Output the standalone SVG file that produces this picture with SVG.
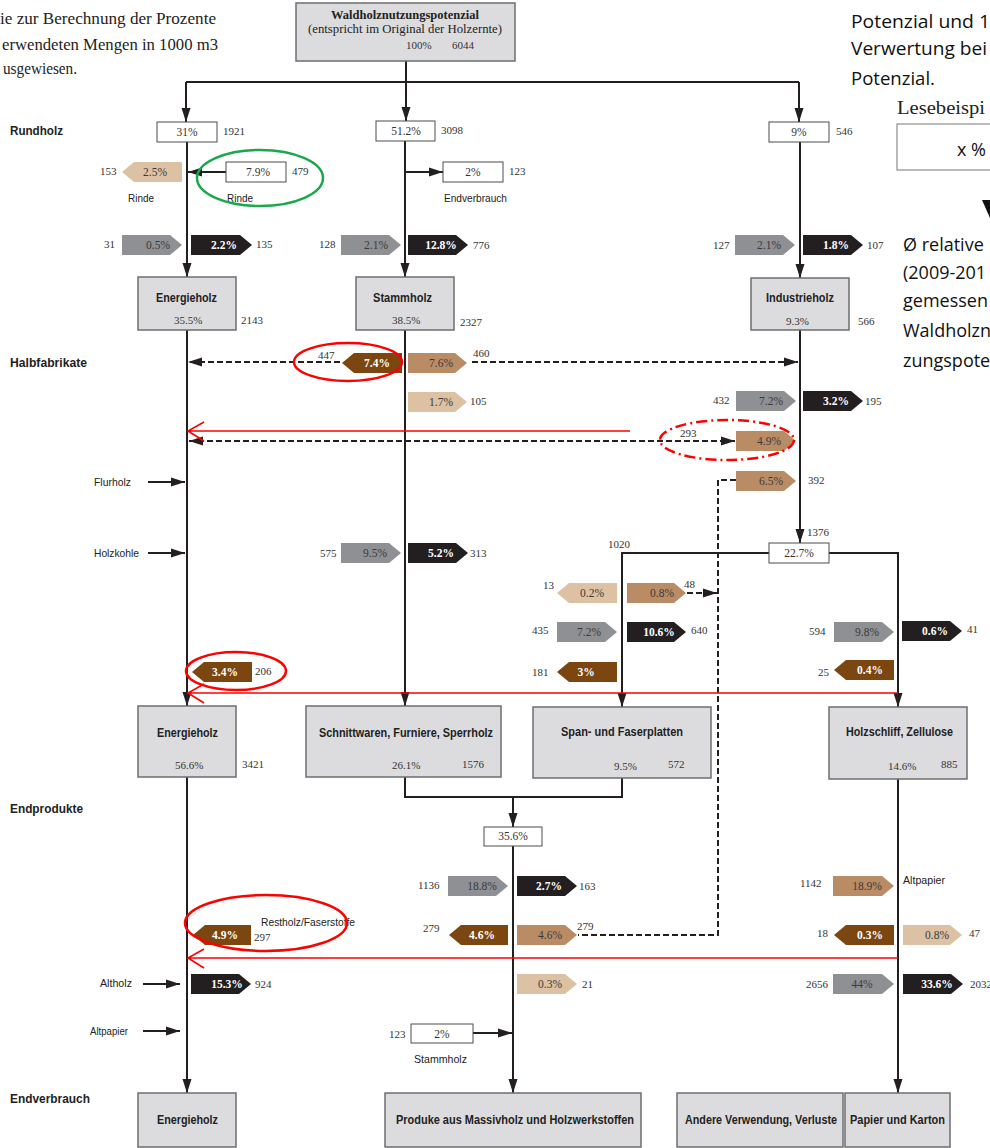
<svg xmlns="http://www.w3.org/2000/svg" width="990" height="1148" viewBox="0 0 990 1148">
<defs>
<style>
.ln{fill:none;stroke:#231f20;stroke-width:2}
.dl{fill:none;stroke:#231f20;stroke-width:2;stroke-dasharray:6 3}
.rl{fill:none;stroke:#ff0000;stroke-width:1.6}
.box{fill:#dcdcde;stroke:#6d6e70;stroke-width:1.5}
.wb{fill:#fff;stroke:#4d4d4d;stroke-width:1}
.gr{fill:#8f9094}
.bk{fill:#231f20}
.lt{fill:#dcc1a3}
.md{fill:#b98c66}
.dk{fill:#7b460f}
.num{font-family:"Liberation Serif",serif;font-size:11px;fill:#333}
.nc{font-family:"Liberation Serif",serif;font-size:11.5px;fill:#333;text-anchor:middle}
.pw{font-family:"Liberation Serif",serif;font-size:11.5px;font-weight:bold;fill:#fff;text-anchor:middle}
.pd{font-family:"Liberation Serif",serif;font-size:11.5px;fill:#3a3a3a;text-anchor:middle}
.lbl{font-family:"Liberation Sans Narrow","Liberation Sans",sans-serif;font-size:11px;fill:#222}
.hb{font-family:"Liberation Sans Narrow","Liberation Sans",sans-serif;font-size:12px;font-weight:bold;fill:#222}
.ser{font-family:"Liberation Serif",serif;fill:#222}
.cal{font-family:"Open Sans","Liberation Sans",sans-serif;font-size:18px;fill:#111}
.ov{fill:none;stroke-width:2.5}
</style>
<marker id="ah" markerUnits="userSpaceOnUse" markerWidth="15" markerHeight="11" refX="14" refY="5" orient="auto-start-reverse"><path d="M0,0.5 L14,5 L0,9.5 z" fill="#231f20"/></marker>
</defs>

<g id="intro-text">
<text class="ser" x="0" y="24" font-size="16" textLength="216" lengthAdjust="spacingAndGlyphs">ie zur Berechnung der Prozente</text>
<text class="ser" x="2" y="50" font-size="16" textLength="216" lengthAdjust="spacingAndGlyphs">erwendeten Mengen in 1000 m3</text>
<text class="ser" x="3" y="74" font-size="16" textLength="74" lengthAdjust="spacingAndGlyphs">usgewiesen.</text>
</g>

<g id="legend">
<text class="cal" x="851" y="28" textLength="139" lengthAdjust="spacingAndGlyphs">Potenzial und  1</text>
<text class="cal" x="851" y="55" textLength="136" lengthAdjust="spacingAndGlyphs">Verwertung bei</text>
<text class="cal" x="851" y="85" textLength="84" lengthAdjust="spacingAndGlyphs">Potenzial.</text>
<text class="ser" x="897" y="114" font-size="19" textLength="88" lengthAdjust="spacingAndGlyphs">Lesebeispi</text>
<rect x="897" y="124" width="100" height="46" fill="#fff" stroke="#777" stroke-width="1"/>
<text class="cal" x="957" y="156">x %</text>
<polygon points="982,200 998,200 990,218" fill="#111"/>
<text class="cal" x="903" y="251">Ø relative</text>
<text class="cal" x="903" y="279">(2009-201</text>
<text class="cal" x="903" y="307">gemessen</text>
<text class="cal" x="903" y="337">Waldholzn</text>
<text class="cal" x="903" y="367">zungspote</text>
</g>

<g id="row-labels">
<text class="hb" x="10" y="135" textLength="53" lengthAdjust="spacingAndGlyphs">Rundholz</text>
<text class="hb" x="10" y="367" textLength="77" lengthAdjust="spacingAndGlyphs">Halbfabrikate</text>
<text class="hb" x="10" y="813" textLength="73" lengthAdjust="spacingAndGlyphs">Endprodukte</text>
<text class="hb" x="10" y="1103" textLength="80" lengthAdjust="spacingAndGlyphs">Endverbrauch</text>
</g>

<g id="connectors">
<path class="ln" d="M406,61 V82 M186,82 H799"/>
<path class="ln" d="M186,82 V122" marker-end="url(#ah)"/>
<path class="ln" d="M406,82 V121" marker-end="url(#ah)"/>
<path class="ln" d="M799,82 V122" marker-end="url(#ah)"/>
<path class="ln" d="M187,142 V277" marker-end="url(#ah)"/>
<path class="ln" d="M226,172 H188" marker-end="url(#ah)"/>
<path class="ln" d="M405,141 V277" marker-end="url(#ah)"/>
<path class="ln" d="M405,172 H443" marker-end="url(#ah)"/>
<path class="ln" d="M800,142 V278" marker-end="url(#ah)"/>
<path class="ln" d="M187,330 V706" marker-end="url(#ah)"/>
<path class="ln" d="M405,330 V706" marker-end="url(#ah)"/>
<path class="ln" d="M800,330 V543" marker-end="url(#ah)"/>
<path class="ln" d="M769,553 H622 V707" marker-end="url(#ah)"/>
<path class="ln" d="M829,553 H898 V707" marker-end="url(#ah)"/>
<path class="ln" d="M405,777 V797 H622 V778"/>
<path class="ln" d="M513,797 V827" marker-end="url(#ah)"/>
<path class="ln" d="M513,846 V1093" marker-end="url(#ah)"/>
<path class="ln" d="M187,777 V1093" marker-end="url(#ah)"/>
<path class="ln" d="M898,779 V1093" marker-end="url(#ah)"/>
<path class="ln" d="M148,482 H185" marker-end="url(#ah)"/>
<path class="ln" d="M148,553 H185" marker-end="url(#ah)"/>
<path class="ln" d="M143,984 H180" marker-end="url(#ah)"/>
<path class="ln" d="M143,1031 H180" marker-end="url(#ah)"/>
<path class="ln" d="M473,1033 H512" marker-end="url(#ah)"/>
<path class="dl" d="M340,362 H188" marker-end="url(#ah)"/>
<path class="dl" d="M472,362 H798" marker-end="url(#ah)"/>
<path class="dl" d="M189,441 H735" marker-start="url(#ah)" marker-end="url(#ah)"/>
<path class="dl" d="M736,480 H718 V935 H578"/>
<path class="dl" d="M687,593 H717" marker-end="url(#ah)"/>
<path class="rl" d="M630,431 H188 M204,422 L188,431 L204,441"/>
<path class="rl" d="M898,693 H188 M204,684 L188,693 L204,703"/>
<path class="rl" d="M898,958 H188 M204,949 L188,958 L204,968"/>
</g>

<g id="n-potenzial">
<rect class="box" x="296" y="3" width="219" height="58"/>
<text class="ser" x="405" y="19" font-size="12.5" font-weight="bold" text-anchor="middle">Waldholznutzungspotenzial</text>
<text class="ser" x="405" y="33" font-size="12" text-anchor="middle" textLength="194" lengthAdjust="spacingAndGlyphs">(entspricht im Original der Holzernte)</text>
<text class="num" x="406" y="49">100%</text>
<text class="num" x="452" y="49">6044</text>
</g>

<g id="n-rund-31">
<rect class="wb" x="157" y="122" width="60" height="20"/>
<text class="nc" x="187" y="136">31%</text>
<text class="num" x="223" y="135">1921</text>
</g>
<g id="n-rund-51">
<rect class="wb" x="376" y="121" width="59" height="20"/>
<text class="nc" x="406" y="135">51.2%</text>
<text class="num" x="441" y="134">3098</text>
</g>
<g id="n-rund-9">
<rect class="wb" x="769" y="122" width="60" height="20"/>
<text class="nc" x="799" y="136">9%</text>
<text class="num" x="836" y="135">546</text>
</g>
<g id="n-rinde">
<rect class="wb" x="226" y="162" width="60" height="20"/>
<text class="nc" x="258" y="176">7.9%</text>
<text class="num" x="292" y="175">479</text>
<text class="lbl" x="227" y="202" textLength="26" lengthAdjust="spacingAndGlyphs">Rinde</text>
<ellipse class="ov" cx="260" cy="178" rx="63" ry="28" stroke="#19a84a"/>
</g>
<g id="n-endverbrauch-2">
<rect class="wb" x="443" y="162" width="60" height="20"/>
<text class="nc" x="473" y="176">2%</text>
<text class="num" x="509" y="175">123</text>
<text class="lbl" x="444" y="202" textLength="63" lengthAdjust="spacingAndGlyphs">Endverbrauch</text>
</g>

<g id="f-rinde-out">
<polygon class="lt" points="122,172 134,162 182,162 182,182 134,182"/>
<text class="pd" x="155" y="176">2.5%</text>
<text class="num" x="100" y="175">153</text>
<text class="lbl" x="128" y="202" textLength="26" lengthAdjust="spacingAndGlyphs">Rinde</text>
</g>

<g id="flows-rundholz">
<polygon class="gr" points="122,235 170,235 182,245 170,255 122,255"/>
<text class="pd" x="158" y="249">0.5%</text>
<text class="num" x="104" y="248">31</text>
<polygon class="bk" points="191,235 240,235 252,245 240,255 191,255"/>
<text class="pw" x="224" y="249">2.2%</text>
<text class="num" x="256" y="248">135</text>
<polygon class="gr" points="341,235 389,235 401,245 389,255 341,255"/>
<text class="pd" x="376" y="249">2.1%</text>
<text class="num" x="319" y="248">128</text>
<polygon class="bk" points="408,235 456,235 468,245 456,255 408,255"/>
<text class="pw" x="441" y="249">12.8%</text>
<text class="num" x="473" y="249">776</text>
<polygon class="gr" points="735,235 783,235 795,245 783,255 735,255"/>
<text class="pd" x="769" y="249">2.1%</text>
<text class="num" x="713" y="249">127</text>
<polygon class="bk" points="803,235 851,235 863,245 851,255 803,255"/>
<text class="pw" x="836" y="249">1.8%</text>
<text class="num" x="867" y="249">107</text>
</g>

<g id="n-energieholz-1">
<rect class="box" x="138" y="277" width="98" height="53"/>
<text class="hb" x="156" y="302" textLength="61" lengthAdjust="spacingAndGlyphs">Energieholz</text>
<text class="num" x="174" y="324" font-size="11.5">35.5%</text>
<text class="num" x="241" y="324">2143</text>
</g>
<g id="n-stammholz-1">
<rect class="box" x="356" y="277" width="98" height="53"/>
<text class="hb" x="373" y="302" textLength="59" lengthAdjust="spacingAndGlyphs">Stammholz</text>
<text class="num" x="392" y="324" font-size="11.5">38.5%</text>
<text class="num" x="460" y="326">2327</text>
</g>
<g id="n-industrieholz">
<rect class="box" x="751" y="278" width="98" height="52"/>
<text class="hb" x="766" y="302" textLength="68" lengthAdjust="spacingAndGlyphs">Industrieholz</text>
<text class="num" x="786" y="325" font-size="11.5">9.3%</text>
<text class="num" x="858" y="325">566</text>
</g>

<g id="flows-halbfabrikate">
<polygon class="dk" points="342,363 354,353 402,353 402,373 354,373"/>
<text class="pw" x="377" y="367">7.4%</text>
<text class="num" x="318" y="359">447</text>
<ellipse class="ov" cx="348" cy="362" rx="54" ry="19" stroke="#ff0000"/>
<polygon class="md" points="408,353 455,353 467,363 455,373 408,373"/>
<text class="pd" x="441" y="367">7.6%</text>
<text class="num" x="473" y="357">460</text>
<polygon class="lt" points="408,392 455,392 467,402 455,412 408,412"/>
<text class="pd" x="441" y="406">1.7%</text>
<text class="num" x="470" y="405">105</text>
<polygon class="gr" points="736,391 784,391 796,401 784,411 736,411"/>
<text class="pd" x="771" y="405">7.2%</text>
<text class="num" x="713" y="404">432</text>
<polygon class="bk" points="803,391 851,391 863,401 851,411 803,411"/>
<text class="pw" x="836" y="405">3.2%</text>
<text class="num" x="865" y="405">195</text>
<polygon class="md" points="736,431 784,431 796,441 784,451 736,451"/>
<text class="pd" x="769" y="445">4.9%</text>
<text class="num" x="680" y="437">293</text>
<ellipse class="ov" cx="727" cy="440" rx="67" ry="20" stroke="#ff0000" stroke-dasharray="11 4 2 4"/>
<polygon class="md" points="736,471 784,471 796,481 784,491 736,491"/>
<text class="pd" x="771" y="485">6.5%</text>
<text class="num" x="808" y="484">392</text>
<text class="lbl" x="94" y="486" textLength="37" lengthAdjust="spacingAndGlyphs">Flurholz</text>
<text class="lbl" x="94" y="557" textLength="45" lengthAdjust="spacingAndGlyphs">Holzkohle</text>
<polygon class="gr" points="341,543 389,543 401,553 389,563 341,563"/>
<text class="pd" x="375" y="557">9.5%</text>
<text class="num" x="320" y="557">575</text>
<polygon class="bk" points="408,543 456,543 468,553 456,563 408,563"/>
<text class="pw" x="441" y="557">5.2%</text>
<text class="num" x="470" y="557">313</text>
</g>

<g id="n-industrie-22">
<rect class="wb" x="769" y="543" width="60" height="20"/>
<text class="nc" x="799" y="557">22.7%</text>
<text class="num" x="807" y="536">1376</text>
<text class="num" x="608" y="548">1020</text>
</g>

<g id="flows-span-zellulose">
<polygon class="lt" points="557,593 569,583 617,583 617,603 569,603"/>
<text class="pd" x="592" y="597">0.2%</text>
<text class="num" x="543" y="589">13</text>
<polygon class="md" points="627,583 674,583 686,593 674,603 627,603"/>
<text class="pd" x="662" y="597">0.8%</text>
<text class="num" x="684" y="588">48</text>
<polygon class="gr" points="557,622 605,622 617,632 605,642 557,642"/>
<text class="pd" x="589" y="636">7.2%</text>
<text class="num" x="532" y="634">435</text>
<polygon class="bk" points="627,622 674,622 686,632 674,642 627,642"/>
<text class="pw" x="659" y="636">10.6%</text>
<text class="num" x="691" y="634">640</text>
<polygon class="dk" points="557,672 569,662 617,662 617,682 569,682"/>
<text class="pw" x="586" y="676">3%</text>
<text class="num" x="532" y="676">181</text>
<polygon class="gr" points="834,622 882,622 894,632 882,642 834,642"/>
<text class="pd" x="867" y="636">9.8%</text>
<text class="num" x="809" y="635">594</text>
<polygon class="bk" points="902,621 950,621 962,631 950,641 902,641"/>
<text class="pw" x="935" y="635">0.6%</text>
<text class="num" x="967" y="633">41</text>
<polygon class="dk" points="834,670 846,660 894,660 894,680 846,680"/>
<text class="pw" x="870" y="674">0.4%</text>
<text class="num" x="818" y="676">25</text>
<polygon class="dk" points="192,672 204,662 252,662 252,682 204,682"/>
<text class="pw" x="225" y="676">3.4%</text>
<text class="num" x="255" y="675">206</text>
<ellipse class="ov" cx="236" cy="671" rx="50" ry="19" stroke="#ff0000"/>
</g>

<g id="n-energieholz-2">
<rect class="box" x="138" y="706" width="98" height="71"/>
<text class="hb" x="157" y="737" textLength="61" lengthAdjust="spacingAndGlyphs">Energieholz</text>
<text class="num" x="175" y="769" font-size="11.5">56.6%</text>
<text class="num" x="242" y="768">3421</text>
</g>
<g id="n-schnittwaren">
<rect class="box" x="306" y="706" width="195" height="71"/>
<text class="hb" x="319" y="737" textLength="174" lengthAdjust="spacingAndGlyphs">Schnittwaren, Furniere, Sperrholz</text>
<text class="num" x="392" y="769" font-size="11.5">26.1%</text>
<text class="num" x="462" y="768">1576</text>
</g>
<g id="n-span">
<rect class="box" x="533" y="707" width="178" height="71"/>
<text class="hb" x="561" y="736" textLength="122" lengthAdjust="spacingAndGlyphs">Span- und Faserplatten</text>
<text class="num" x="614" y="770" font-size="11.5">9.5%</text>
<text class="num" x="668" y="768">572</text>
</g>
<g id="n-holzschliff">
<rect class="box" x="829" y="707" width="138" height="72"/>
<text class="hb" x="846" y="736" textLength="107" lengthAdjust="spacingAndGlyphs">Holzschliff, Zellulose</text>
<text class="num" x="888" y="770" font-size="11.5">14.6%</text>
<text class="num" x="941" y="768">885</text>
</g>

<g id="n-produkte-35">
<rect class="wb" x="484" y="827" width="58" height="19"/>
<text class="nc" x="513" y="840">35.6%</text>
</g>

<g id="flows-endprodukte">
<polygon class="gr" points="448,876 496,876 508,886 496,896 448,896"/>
<text class="pd" x="482" y="890">18.8%</text>
<text class="num" x="418" y="889">1136</text>
<polygon class="bk" points="517,876 565,876 577,886 565,896 517,896"/>
<text class="pw" x="549" y="890">2.7%</text>
<text class="num" x="579" y="890">163</text>
<polygon class="md" points="833,876 882,876 894,886 882,896 833,896"/>
<text class="pd" x="867" y="890">18.9%</text>
<text class="num" x="800" y="887">1142</text>
<text class="lbl" x="903" y="884" textLength="42" lengthAdjust="spacingAndGlyphs">Altpapier</text>
<polygon class="dk" points="193,935 205,925 251,925 251,945 205,945"/>
<text class="pw" x="225" y="939">4.9%</text>
<text class="num" x="254" y="941">297</text>
<text class="lbl" x="261" y="926" textLength="94" lengthAdjust="spacingAndGlyphs">Restholz/Faserstoffe</text>
<ellipse class="ov" cx="266" cy="923" rx="81" ry="28" stroke="#ff0000"/>
<polygon class="dk" points="449,935 461,925 508,925 508,945 461,945"/>
<text class="pw" x="482" y="939">4.6%</text>
<text class="num" x="423" y="932">279</text>
<polygon class="md" points="517,925 565,925 577,935 565,945 517,945"/>
<text class="pd" x="550" y="939">4.6%</text>
<text class="num" x="577" y="930">279</text>
<polygon class="dk" points="834,935 846,925 894,925 894,945 846,945"/>
<text class="pw" x="870" y="939">0.3%</text>
<text class="num" x="817" y="937">18</text>
<polygon class="lt" points="903,925 950,925 962,935 950,945 903,945"/>
<text class="pd" x="937" y="939">0.8%</text>
<text class="num" x="969" y="937">47</text>
<text class="lbl" x="100" y="987" textLength="32" lengthAdjust="spacingAndGlyphs">Altholz</text>
<polygon class="bk" points="191,974 239,974 251,984 239,994 191,994"/>
<text class="pw" x="227" y="988">15.3%</text>
<text class="num" x="255" y="988">924</text>
<polygon class="lt" points="517,974 565,974 577,984 565,994 517,994"/>
<text class="pd" x="550" y="988">0.3%</text>
<text class="num" x="582" y="988">21</text>
<polygon class="gr" points="833,974 882,974 894,984 882,994 833,994"/>
<text class="pd" x="862" y="988">44%</text>
<text class="num" x="806" y="988">2656</text>
<polygon class="bk" points="903,974 951,974 963,984 951,994 903,994"/>
<text class="pw" x="937" y="988">33.6%</text>
<text class="num" x="970" y="988">2032</text>
<text class="lbl" x="90" y="1035" textLength="38" lengthAdjust="spacingAndGlyphs">Altpapier</text>
</g>

<g id="n-stammholz-2">
<rect class="wb" x="411" y="1024" width="62" height="19"/>
<text class="nc" x="442" y="1038">2%</text>
<text class="num" x="389" y="1038">123</text>
<text class="lbl" x="414" y="1063" textLength="53" lengthAdjust="spacingAndGlyphs">Stammholz</text>
</g>

<g id="n-energieholz-end">
<rect class="box" x="138" y="1093" width="98" height="54"/>
<text class="hb" x="157" y="1124" textLength="61" lengthAdjust="spacingAndGlyphs">Energieholz</text>
</g>
<g id="n-produkte-end">
<rect class="box" x="385" y="1093" width="256" height="54"/>
<text class="hb" x="396" y="1124" textLength="238" lengthAdjust="spacingAndGlyphs">Produke aus Massivholz und Holzwerkstoffen</text>
</g>
<g id="n-andere-end">
<rect class="box" x="677" y="1093" width="166" height="54"/>
<text class="hb" x="685" y="1124" textLength="152" lengthAdjust="spacingAndGlyphs">Andere Verwendung, Verluste</text>
</g>
<g id="n-papier-end">
<rect class="box" x="845" y="1093" width="105" height="54"/>
<text class="hb" x="850" y="1124" textLength="95" lengthAdjust="spacingAndGlyphs">Papier und Karton</text>
</g>
</svg>
